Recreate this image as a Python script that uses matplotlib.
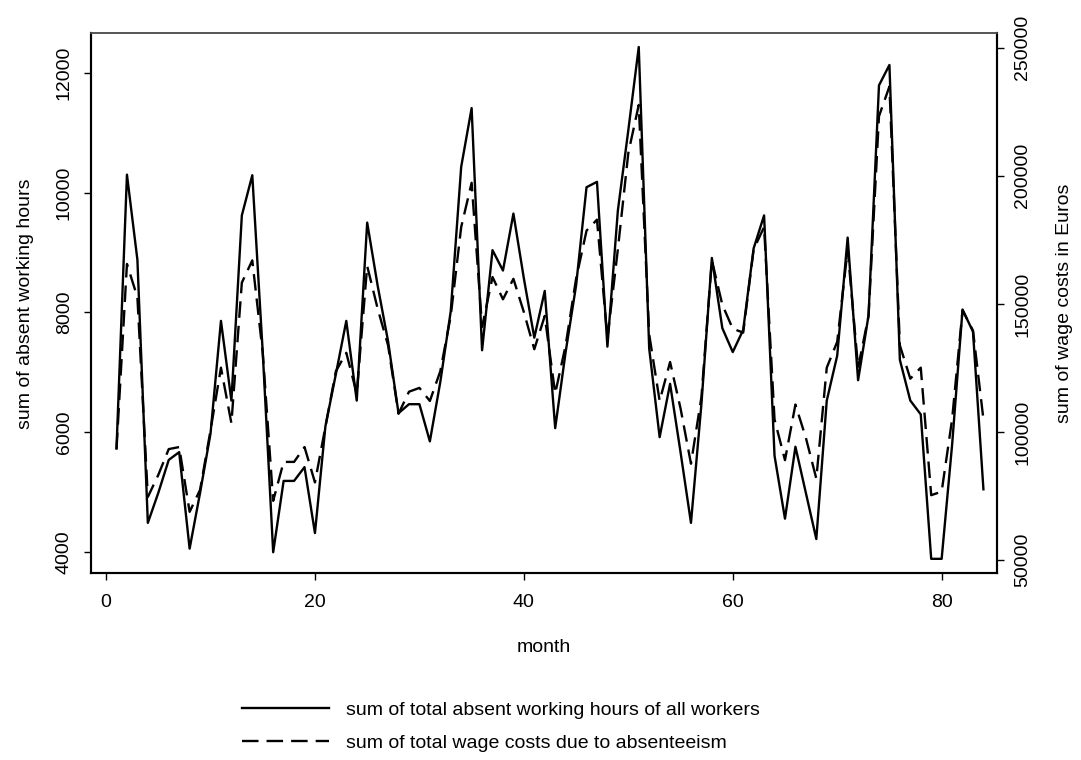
import matplotlib.pyplot as plt
import numpy as np

plt.rcParams['font.family'] = ['Liberation Sans', 'DejaVu Sans']

months = list(range(1, 85))

# sum of total absent working hours (left axis)
hours = [5730, 10300, 8880, 4490, 4990, 5540, 5670, 4060, 4990, 5980,
         7860, 6530, 9620, 10290, 7340, 4000, 5190, 5190, 5420, 4320,
         6100, 6970, 7860, 6530, 9500, 8450, 7520, 6320, 6470, 6470,
         5850, 6840, 8020, 10430, 11410, 7370, 9040, 8700, 9650, 8570,
         7580, 8360, 6070, 7340, 8450, 10090, 10180, 7430, 9700, 11040,
         12430, 7400, 5920, 6810, 5670, 4490, 6470, 8910, 7740, 7340,
         7710, 9070, 9620, 5610, 4560, 5760, 4990, 4220, 6530, 7280,
         9250, 6870, 7950, 11790, 12130, 7210, 6530, 6300, 3890, 3890,
         5790, 8050, 7680, 5050]

# sum of total wage costs due to absenteeism (right axis)
wages = [93300, 165600, 152600, 74600, 83200, 93300, 94100, 68800, 77400, 100600,
         125100, 103400, 158300, 167000, 130900, 73100, 88300, 88300, 94100, 80300,
         102000, 123700, 130900, 115000, 164800, 148200, 133800, 107100, 115700, 117200,
         112100, 123700, 145300, 180000, 197300, 141000, 160500, 151800, 159800, 146800,
         132300, 145300, 115000, 133800, 159800, 178600, 182900, 136700, 171300, 208900,
         227700, 138100, 112100, 127300, 109200, 87600, 113600, 167000, 149700, 140300,
         138800, 171300, 180000, 104900, 89000, 110700, 97700, 81800, 125100, 135200,
         171300, 125100, 145300, 223300, 234900, 133800, 120800, 125100, 75300, 76700,
         104900, 147500, 139600, 104900]

fig = plt.figure(figsize=(10.81, 7.6), dpi=100)
ax = fig.add_axes([0.0842, 0.2457, 0.8381, 0.7103])
ax2 = ax.twinx()

l1, = ax.plot(months, hours, color='black', linewidth=1.7,
              label='sum of total absent working hours of all workers')
l2, = ax2.plot(months, wages, color='black', linewidth=1.7, linestyle=(0, (7, 3.4)),
               label='sum of total wage costs due to absenteeism')

ax.set_xlim(-1.44, 85.3)
ax.set_ylim(3649, 12656)
ax2.set_ylim(44810, 255620)

ax.set_xticks([0, 20, 40, 60, 80])
ax.set_yticks([4000, 6000, 8000, 10000, 12000])
ax2.set_yticks([50000, 100000, 150000, 200000, 250000])

for a in (ax, ax2):
    for s in a.spines.values():
        s.set_linewidth(1.5)
        s.set_color('black')
    a.spines['top'].set_color('#555555')
    a.spines['top'].set_linewidth(1.2)
    a.tick_params(direction='out', length=5, width=1, labelsize=14)

ax.tick_params(axis='x', pad=10)
ax.tick_params(axis='y', pad=8)
ax2.tick_params(axis='y', pad=7.5)
for t in ax.get_yticklabels() + ax2.get_yticklabels():
    t.set_rotation(90)
    t.set_va('center')

ax.set_xlabel('month', fontsize=14, labelpad=20)
ax.set_ylabel('sum of absent working hours', fontsize=14, labelpad=16)
ax2.set_ylabel('sum of wage costs in Euros', fontsize=14, labelpad=18)

fig.legend(handles=[l1, l2], loc='center left', bbox_to_anchor=(0.2146, 0.0443),
           frameon=False, fontsize=14, borderpad=0, handlelength=4.5,
           handletextpad=0.85, labelspacing=0.8)

fig.savefig('out.png', dpi=100)
